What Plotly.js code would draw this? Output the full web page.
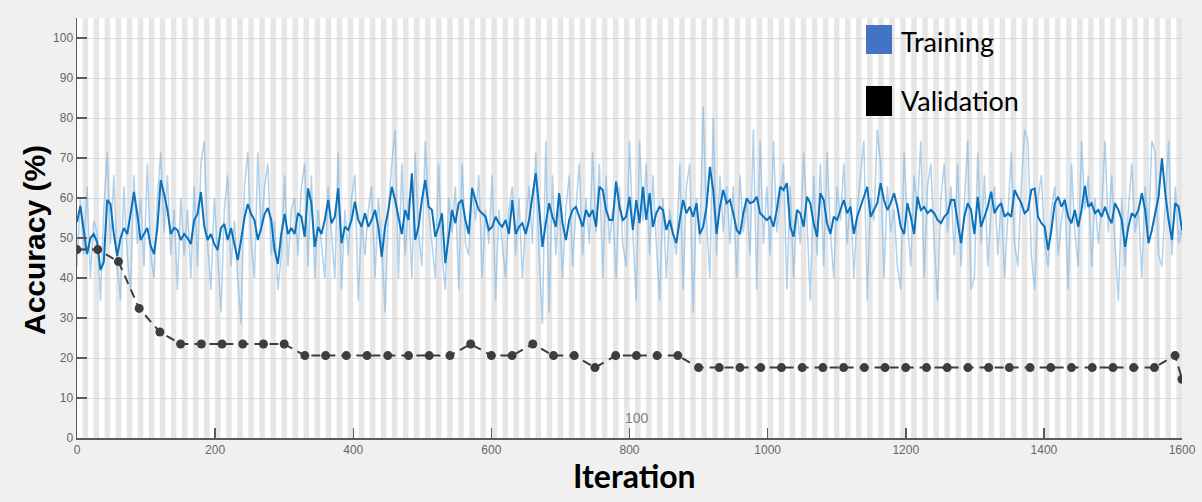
<!DOCTYPE html>
<html>
<head>
<meta charset="utf-8">
<script src="https://cdn.plot.ly/plotly-3.0.1.min.js"></script>
<style>html,body{margin:0;padding:0;background:#f0f0f0;}#chart{width:1202px;height:502px;}</style>
</head>
<body>
<div id="chart"></div>
<script>
// ---- data ----
const totalIterations = 1600;
const iterationsPerEpoch = 8;

const trainRawSeg1 = [42.9,60,45.7,62.9,40,54.3,51.4,34.3,57.1,71.4,48.6,65.7,42.9,34.3,62.9,45.7,37.1,65.7,48.6,60,42.9,68.6,45.7,40,60,71.4,51.4,65.7,45.7,57.1,37.1,60,45.7,57.1,40,62.9,42.9,68.6,74.3,48.6,37.1,60,45.7,31.4,57.1,65.7,42.9,54.3,40,28.6,62.9,71.4,48.6,40,71.4,51.4,62.9,68.6,45.7,54.3,37.1,45.7,65.7,42.9,57.1];
const trainRawSeg2 = [60,45.7,62.9,68.6,42.9,65.7,40,57.1,48.6,40,62.9,51.4,40,71.4,37.1,57.1,45.7,60,65.7,34.3,54.3,45.7,57.1,62.9,40,60,48.6,31.4,57.1,68.6,77.1,40,68.6,45.7,60,40,71.4,51.4,42.9,74.3,57.1,48.6,40,68.6,45.7,37.1,60,51.4,62.9,37.1,68.6,48.6,45.7,62.9,54.3,65.7,40,57.1,48.6,65.7,34.3,57.1];
const trainRawSeg3 = [48.6,40,57.1,62.9,45.7,60,40,54.3,62.9,48.6,71.4,45.7,28.6,74.3,31.4,65.7,45.7,60,40,57.1,65.7,42.9,57.1,68.6,45.7,60,48.6,71.4,51.4,68.6,40,65.7,48.6,57.1,40,62.9,48.6,42.9,74.3,51.4,34.3,74.3,54.3,68.6,45.7,65.7,48.6,34.3,60,40,57.1,51.4,45.7,68.6,37.1,62.9,68.6,31.4,60,48.6,82.9,54.3,40,80,45.7,65.7,51.4,62.9];
const trainRawSeg4 = [48.6,62.9,40,65.7,51.4,60,45.7,77.1,37.1,74.3,48.6,62.9,45.7,74.3,51.4,60,68.6,37.1,62.9,40,57.1,48.6,71.4,54.3,34.3,65.7,45.7,68.6,42.9,71.4,51.4,40,62.9,54.3,68.6,48.6,60,40,57.1,65.7,74.3,34.3,60,54.3,77.1,68.6,40,62.9,51.4,57.1,42.9,37.1,71.4,54.3,42.9,65.7,57.1,74.3,40,62.9,68.6,48.6,34.3,60,68.6,51.4,62.9];
const trainRawSeg5 = [45.7,68.6,42.9,57.1,74.3,37.1,40,71.4,48.6,65.7,42.9,57.1,62.9,45.7,60,40,54.3,71.4,48.6,42.9,62.9,77.1,74.3,45.7,37.1,60,65.7,48.6,42.9,57.1,62.9,45.7,54.3,60,37.1,68.6,51.4,42.9,74.3,57.1,65.7,42.9,60,48.6,57.1,74.3,51.4,65.7,48.6,34.3,60,42.9,57.1,68.6,51.4,57.1,40,62.9,51.4,74.3,71.4,45.7,42.9,60,74.3,45.7,62.9,48.6,51.4];

const trainSmoothSeg1 = [54,58,52,46,50,51,49,42,44,59.5,58.5,51,45.5,50,52.5,51,56,61.5,56,49.5,51,52.5,48,46,52.5,64.5,61,57,51,52.5,52,49.5,51,50,48.5,54.5,56,61.5,53,49.5,51,48.5,47,52.5,53.5,49.5,52.5,48,44.5,49.5,55,58.5,56,54.5,49.5,52.5,56,57.5,54.5,47,43.5,51,56,51,52.5];
const trainSmoothSeg2 = [51,56.2,55.3,50.3,62.4,58.7,47.8,52.8,51,54.5,59.5,53.7,55.3,62.4,48.7,52.8,52,54.5,59.1,54.5,52.8,56.2,52.8,54.5,57,52.8,45.3,52.8,57,62.8,59.5,55.3,51,57,54.5,66.2,49.5,52.8,59.5,64.5,57.8,57,50.3,52.8,56.2,43.7,51,57,53.7,58.7,59.5,54.5,51,62.4,59.5,57,56.2,55.3,52,52.8,55.3,53.7];
const trainSmoothSeg3 = [52.8,54.5,51,59.5,51,52.8,53.7,51,54.5,60.3,66.2,57.8,47.8,53.7,58.7,55.3,52.8,61.2,53.7,49.5,54.5,57,57.8,55.3,52.8,57,55.3,57,52.8,62.8,62,57,54.5,54.5,64.1,57.8,54.5,55.3,60.3,52,59.5,53.7,62.8,54.5,61.2,52.8,56.2,57.8,57,52,54.5,51,48.7,54.5,59.5,56.2,57.8,55.3,58.7,51,52.8,57.8,67.8,62,51,57.8,62,58.7];
const trainSmoothSeg4 = [59.5,56.2,52,51,56.2,59.9,58.7,59.1,60.3,56.2,55.3,54.5,55.3,52.8,57,62.8,62,63.7,52.8,50.3,57,56.2,52.8,60.3,58.7,53.7,50.3,61.2,59.5,53.7,51,55.3,54.5,57,59.5,56.2,57.8,51,55.3,57.8,60.3,62.8,55.3,57,58.7,63.7,59.5,57,58.7,61.2,57.8,52.8,51,58.7,55.3,51,60.3,57,57.8,56.2,57,56.2,54.5,53.7,55.3,56.2,59.5];
const trainSmoothSeg5 = [59.5,54.5,48.7,55.3,58.7,57,51,60.3,52.8,55.3,57.8,61.6,56.2,57.8,58.7,55.3,56.2,55.3,62,60.3,58.7,56.2,57,62,62.4,55.3,53.7,52.8,47,52,58.7,60.3,57.8,59.5,55.3,53.7,57,52.8,57,63,57.8,58.7,56.2,57,55.3,57.8,55.3,53.7,58.7,57,54.5,47.8,52.8,56.2,55.3,57,61.2,57,48.7,52,56.2,60.3,69.9,61.2,54.5,49.5,58.7,57.8,52];

const valIterations = [0,30,60,90,120,150,180,210,240,270,300,330,360,390,420,450,480,510,540,570,600,630,660,690,720,750,780,810,840,870,900,930,960,990,1020,1050,1080,1110,1140,1170,1200,1230,1260,1290,1320,1350,1380,1410,1440,1470,1500,1530,1560,1590,1600];
const valAccuracy = [47.1,47.1,44.1,32.4,26.5,23.5,23.5,23.5,23.5,23.5,23.5,20.6,20.6,20.6,20.6,20.6,20.6,20.6,20.6,23.5,20.6,20.6,23.5,20.6,20.6,17.6,20.6,20.6,20.6,20.6,17.6,17.6,17.6,17.6,17.6,17.6,17.6,17.6,17.6,17.6,17.6,17.6,17.6,17.6,17.6,17.6,17.6,17.6,17.6,17.6,17.6,17.6,17.6,20.6,14.7];

const xTickValues = [0,200,400,600,800,1000,1200,1400,1600];
const yTickValues = [0,10,20,30,40,50,60,70,80,90,100];
const legendLabels = ["Training", "Validation"];

// ---- build traces ----
const trainRaw = [].concat(trainRawSeg1, trainRawSeg2, trainRawSeg3, trainRawSeg4, trainRawSeg5);
const trainSmooth = [].concat(trainSmoothSeg1, trainSmoothSeg2, trainSmoothSeg3, trainSmoothSeg4, trainSmoothSeg5);
const rawIter = trainRaw.map((_, i) => i * totalIterations / (trainRaw.length - 1));
const smoothIter = trainSmooth.map((_, i) => i * totalIterations / (trainSmooth.length - 1));

const traces = [
  {x: rawIter, y: trainRaw, type: 'scatter', mode: 'lines',
   line: {color: 'rgba(125,180,225,0.6)', width: 1.5}, hoverinfo: 'skip', showlegend: false},
  {x: [rawIter[rawIter.length-1]], y: [trainRaw[trainRaw.length-1]], type: 'scatter', mode: 'markers',
   marker: {color: 'rgba(150,195,235,0.8)', size: 7}, showlegend: false},
  {x: smoothIter, y: trainSmooth, type: 'scatter', mode: 'lines',
   line: {color: '#0a72bd', width: 2}, showlegend: false},
  {x: valIterations, y: valAccuracy, type: 'scatter', mode: 'lines+markers',
   line: {color: '#3d3d3d', width: 2, dash: '9px,6px'},
   marker: {color: '#3d3d3d', size: 9}, showlegend: false}
];

// epoch shading
const shapes = [];
const nEpochs = Math.ceil(totalIterations / iterationsPerEpoch);
for (let e = 0; e < nEpochs; e++) {
  if (e % 2 === 1) {
    shapes.push({type: 'rect', xref: 'x', yref: 'paper',
      x0: e * iterationsPerEpoch, x1: Math.min((e + 1) * iterationsPerEpoch, totalIterations),
      y0: 0, y1: 1, fillcolor: '#e6e6e6', line: {width: 0}, layer: 'below'});
  }
}
// legend squares
shapes.push({type: 'rect', xref: 'paper', yref: 'paper', x0: (866-77)/1105, x1: (892-77)/1105,
  y0: (438-54)/420, y1: (438-25)/420, fillcolor: '#4472c4', line: {width: 0}, layer: 'above'});
shapes.push({type: 'rect', xref: 'paper', yref: 'paper', x0: (866-77)/1105, x1: (892-77)/1105,
  y0: (438-116)/420, y1: (438-86)/420, fillcolor: '#000000', line: {width: 0}, layer: 'above'});

const annotations = [
  {text: legendLabels[0], xref: 'paper', yref: 'paper', x: (899-77)/1105, y: (438-41)/420,
   xanchor: 'left', yanchor: 'middle', showarrow: false, font: {family: 'Lato, "Open Sans", sans-serif', size: 27, color: '#000'}},
  {text: legendLabels[1], xref: 'paper', yref: 'paper', x: (899-77)/1105, y: (438-101)/420,
   xanchor: 'left', yanchor: 'middle', showarrow: false, font: {family: 'Lato, "Open Sans", sans-serif', size: 27, color: '#000'}},
  {text: 'Accuracy (%)', xref: 'paper', yref: 'paper', x: (34-77)/1105, y: (438-240)/420, textangle: -90,
   xanchor: 'center', yanchor: 'middle', showarrow: false,
   font: {family: '"Liberation Sans", Arial, sans-serif', size: 30, color: '#000', weight: 'bold'}},
  {text: 'Iteration', xref: 'paper', yref: 'paper', x: (634-77)/1105, y: (438-476)/420,
   xanchor: 'center', yanchor: 'middle', showarrow: false,
   font: {family: 'Lato, "Open Sans", sans-serif', size: 32, color: '#000', weight: 'bold'}},
  {text: '100', xref: 'x', yref: 'y', x: 811, y: 5, xanchor: 'center', yanchor: 'middle', showarrow: false,
   font: {family: '"Liberation Sans", Arial, sans-serif', size: 14, color: '#808080'}}
];

const layout = {
  width: 1202, height: 502,
  paper_bgcolor: '#f0f0f0', plot_bgcolor: '#ffffff',
  margin: {l: 77, r: 20, t: 18, b: 64},
  showlegend: false,
  xaxis: {range: [0, totalIterations], tickvals: xTickValues, ticks: 'inside', ticklen: 10, tickwidth: 1.5,
    tickcolor: '#5a5a5a', showline: true, linecolor: '#5a5a5a', linewidth: 1.5, showgrid: false, zeroline: false,
    tickfont: {family: '"Liberation Sans", Arial, sans-serif', size: 12, color: '#666'}},
  yaxis: {range: [0, 105], tickvals: yTickValues, ticks: 'inside', ticklen: 10, tickwidth: 1.5,
    tickcolor: '#5a5a5a', showline: true, linecolor: '#5a5a5a', linewidth: 1.5, showgrid: true, gridcolor: '#d8d8d8',
    gridwidth: 1, zeroline: false,
    tickfont: {family: '"Liberation Sans", Arial, sans-serif', size: 12, color: '#666'}},
  shapes: shapes,
  annotations: annotations
};

Plotly.newPlot('chart', traces, layout, {displayModeBar: false, staticPlot: true});
</script>
</body>
</html>
